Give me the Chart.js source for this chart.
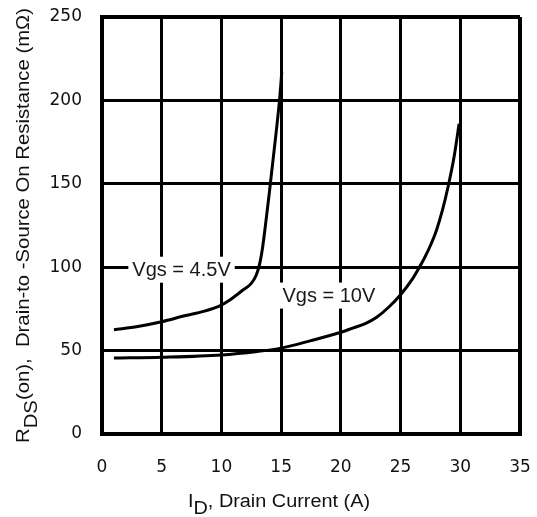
<!DOCTYPE html>
<html>
<head>
<meta charset="utf-8">
<script src="https://cdn.jsdelivr.net/npm/chart.js@4"></script>
<style>
  body { margin: 0; background: #fff; }
  #wrap { width: 537px; height: 517px; }
</style>
</head>
<body>
<div id="wrap"><canvas id="rdsChart" width="537" height="517"></canvas></div>
<script>
// drain current (A) and on resistance (mOhm)
const currentVgs45 = [1, 3, 5, 7, 8.5, 10, 10.7, 11.8, 12.5, 12.9, 13.2, 13.45, 13.7, 14.0, 14.3, 14.6, 14.9, 15.05];
const rdsVgs45 = [62.5, 64.5, 67.3, 71, 73.5, 77.3, 80.3, 86.3, 90.3, 95, 102, 112, 126, 144, 163, 182, 203, 217];
const currentVgs10 = [1, 5, 10, 13, 15, 17.5, 20, 21, 22, 23, 24, 25, 26, 26.5, 27, 27.5, 28, 28.5, 29, 29.5, 29.9];
const rdsVgs10 = [45.5, 46, 47.4, 49.5, 51.5, 56, 61, 63.5, 66, 70, 76, 83.5, 93, 99, 105.5, 113, 122, 134, 149, 167, 186];

const xTicks = [0, 5, 10, 15, 20, 25, 30, 35];
const yTicks = [0, 50, 100, 150, 200, 250];

// curve labels: text and where they sit (data units, centre of the text)
const curveLabels = ["Vgs = 4.5V", "Vgs = 10V"];
const curveLabelX = [6.66, 19.0];
const curveLabelY = [98.5, 83];

function toPoints(xs, ys) {
    let pts = [];
    for (let i = 0; i < xs.length; i++) {
        pts.push({ x: xs[i], y: ys[i] });
    }
    return pts;
}

// draws the two boxed labels over the grid
const labelPlugin = {
    id: "curveLabels",
    afterDatasetsDraw(chart) {
        const ctx = chart.ctx;
        const xs = chart.scales.x, ys = chart.scales.y;
        ctx.save();
        ctx.font = "20px 'Liberation Sans', Arial, sans-serif";
        ctx.textBaseline = "middle";
        ctx.textAlign = "center";
        for (let i = 0; i < curveLabels.length; i++) {
            const cx = xs.getPixelForValue(curveLabelX[i]);
            const cy = ys.getPixelForValue(curveLabelY[i]);
            const w = ctx.measureText(curveLabels[i]).width;
            ctx.fillStyle = "#fff";
            ctx.fillRect(cx - w / 2 - 4, cy - 13, w + 8, 26);
            ctx.fillStyle = "#1a1a1a";
            ctx.fillText(curveLabels[i], cx, cy + 1);
        }
        ctx.restore();
    }
};

// axis titles have subscripts, so they are drawn by hand
// parts: [text, isSubscript]
function drawTitle(ctx, parts, fitWidth, subShift) {
    let total = 0;
    for (const p of parts) total += ctx.measureText(p[0]).width;
    const sx = fitWidth / total;
    ctx.scale(sx, 1);
    let x = 0;
    for (const p of parts) {
        ctx.fillText(p[0], x, p[1] ? subShift : 0);
        x += ctx.measureText(p[0]).width;
    }
}

const titlePlugin = {
    id: "axisTitles",
    afterDraw(chart) {
        const ctx = chart.ctx;
        ctx.save();
        ctx.fillStyle = "#111";
        ctx.font = "18px 'Liberation Sans', Arial, sans-serif";
        ctx.textAlign = "left";
        ctx.textBaseline = "alphabetic";
        // x title
        ctx.save();
        ctx.translate(188, 507);
        drawTitle(ctx, [["I", false], ["D", true], [", Drain Current (A)", false]], 182, 7);
        ctx.restore();
        // y title, reads bottom to top
        ctx.save();
        ctx.translate(28.5, 443);
        ctx.rotate(-Math.PI / 2);
        drawTitle(ctx, [["R", false], ["DS", true], ["(on),  Drain-to -Source On Resistance (m\u03A9)", false]], 435, 8);
        ctx.restore();
        ctx.restore();
    }
};

function edgeWidth(c, last) {
    return (c.index === 0 || c.index === last) ? 4 : 3;
}

const ctx = document.getElementById("rdsChart").getContext("2d");
const chart = new Chart(ctx, {
    type: "line",
    data: {
        datasets: [
            {
                label: "Vgs = 4.5V",
                data: toPoints(currentVgs45, rdsVgs45),
                borderColor: "#000",
                borderWidth: 3,
                pointRadius: 0,
                cubicInterpolationMode: "monotone",
                fill: false
            },
            {
                label: "Vgs = 10V",
                data: toPoints(currentVgs10, rdsVgs10),
                borderColor: "#000",
                borderWidth: 3,
                pointRadius: 0,
                cubicInterpolationMode: "monotone",
                fill: false
            }
        ]
    },
    options: {
        responsive: false,
        devicePixelRatio: 1,
        animation: false,
        layout: { padding: { left: 0, right: 17, top: 17, bottom: 0 } },
        plugins: {
            legend: { display: false },
            tooltip: { enabled: false }
        },
        scales: {
            x: {
                type: "linear",
                min: 0,
                max: 35,
                afterFit(scale) {
                    scale.height = 83;
                    scale.paddingLeft = 0;
                    scale.paddingRight = 0;
                },
                afterBuildTicks(scale) { scale.ticks = xTicks.map(v => ({ value: v })); },
                grid: {
                    color: "#000",
                    lineWidth: c => edgeWidth(c, xTicks.length - 1),
                    drawTicks: false
                },
                border: { color: "#000", width: 4 },
                ticks: {
                    padding: 23,
                    color: "#111",
                    font: { family: "'DejaVu Sans', sans-serif", size: 17 }
                }
            },
            y: {
                type: "linear",
                min: 0,
                max: 250,
                afterFit(scale) {
                    scale.width = 102;
                    scale.paddingTop = 0;
                    scale.paddingBottom = 0;
                },
                afterBuildTicks(scale) { scale.ticks = yTicks.map(v => ({ value: v })); },
                grid: {
                    color: "#000",
                    lineWidth: c => edgeWidth(c, yTicks.length - 1),
                    drawTicks: false
                },
                border: { color: "#000", width: 4 },
                ticks: {
                    padding: 20,
                    color: "#111",
                    font: { family: "'DejaVu Sans', sans-serif", size: 17 }
                }
            }
        }
    },
    plugins: [labelPlugin, titlePlugin]
});
</script>
</body>
</html>
